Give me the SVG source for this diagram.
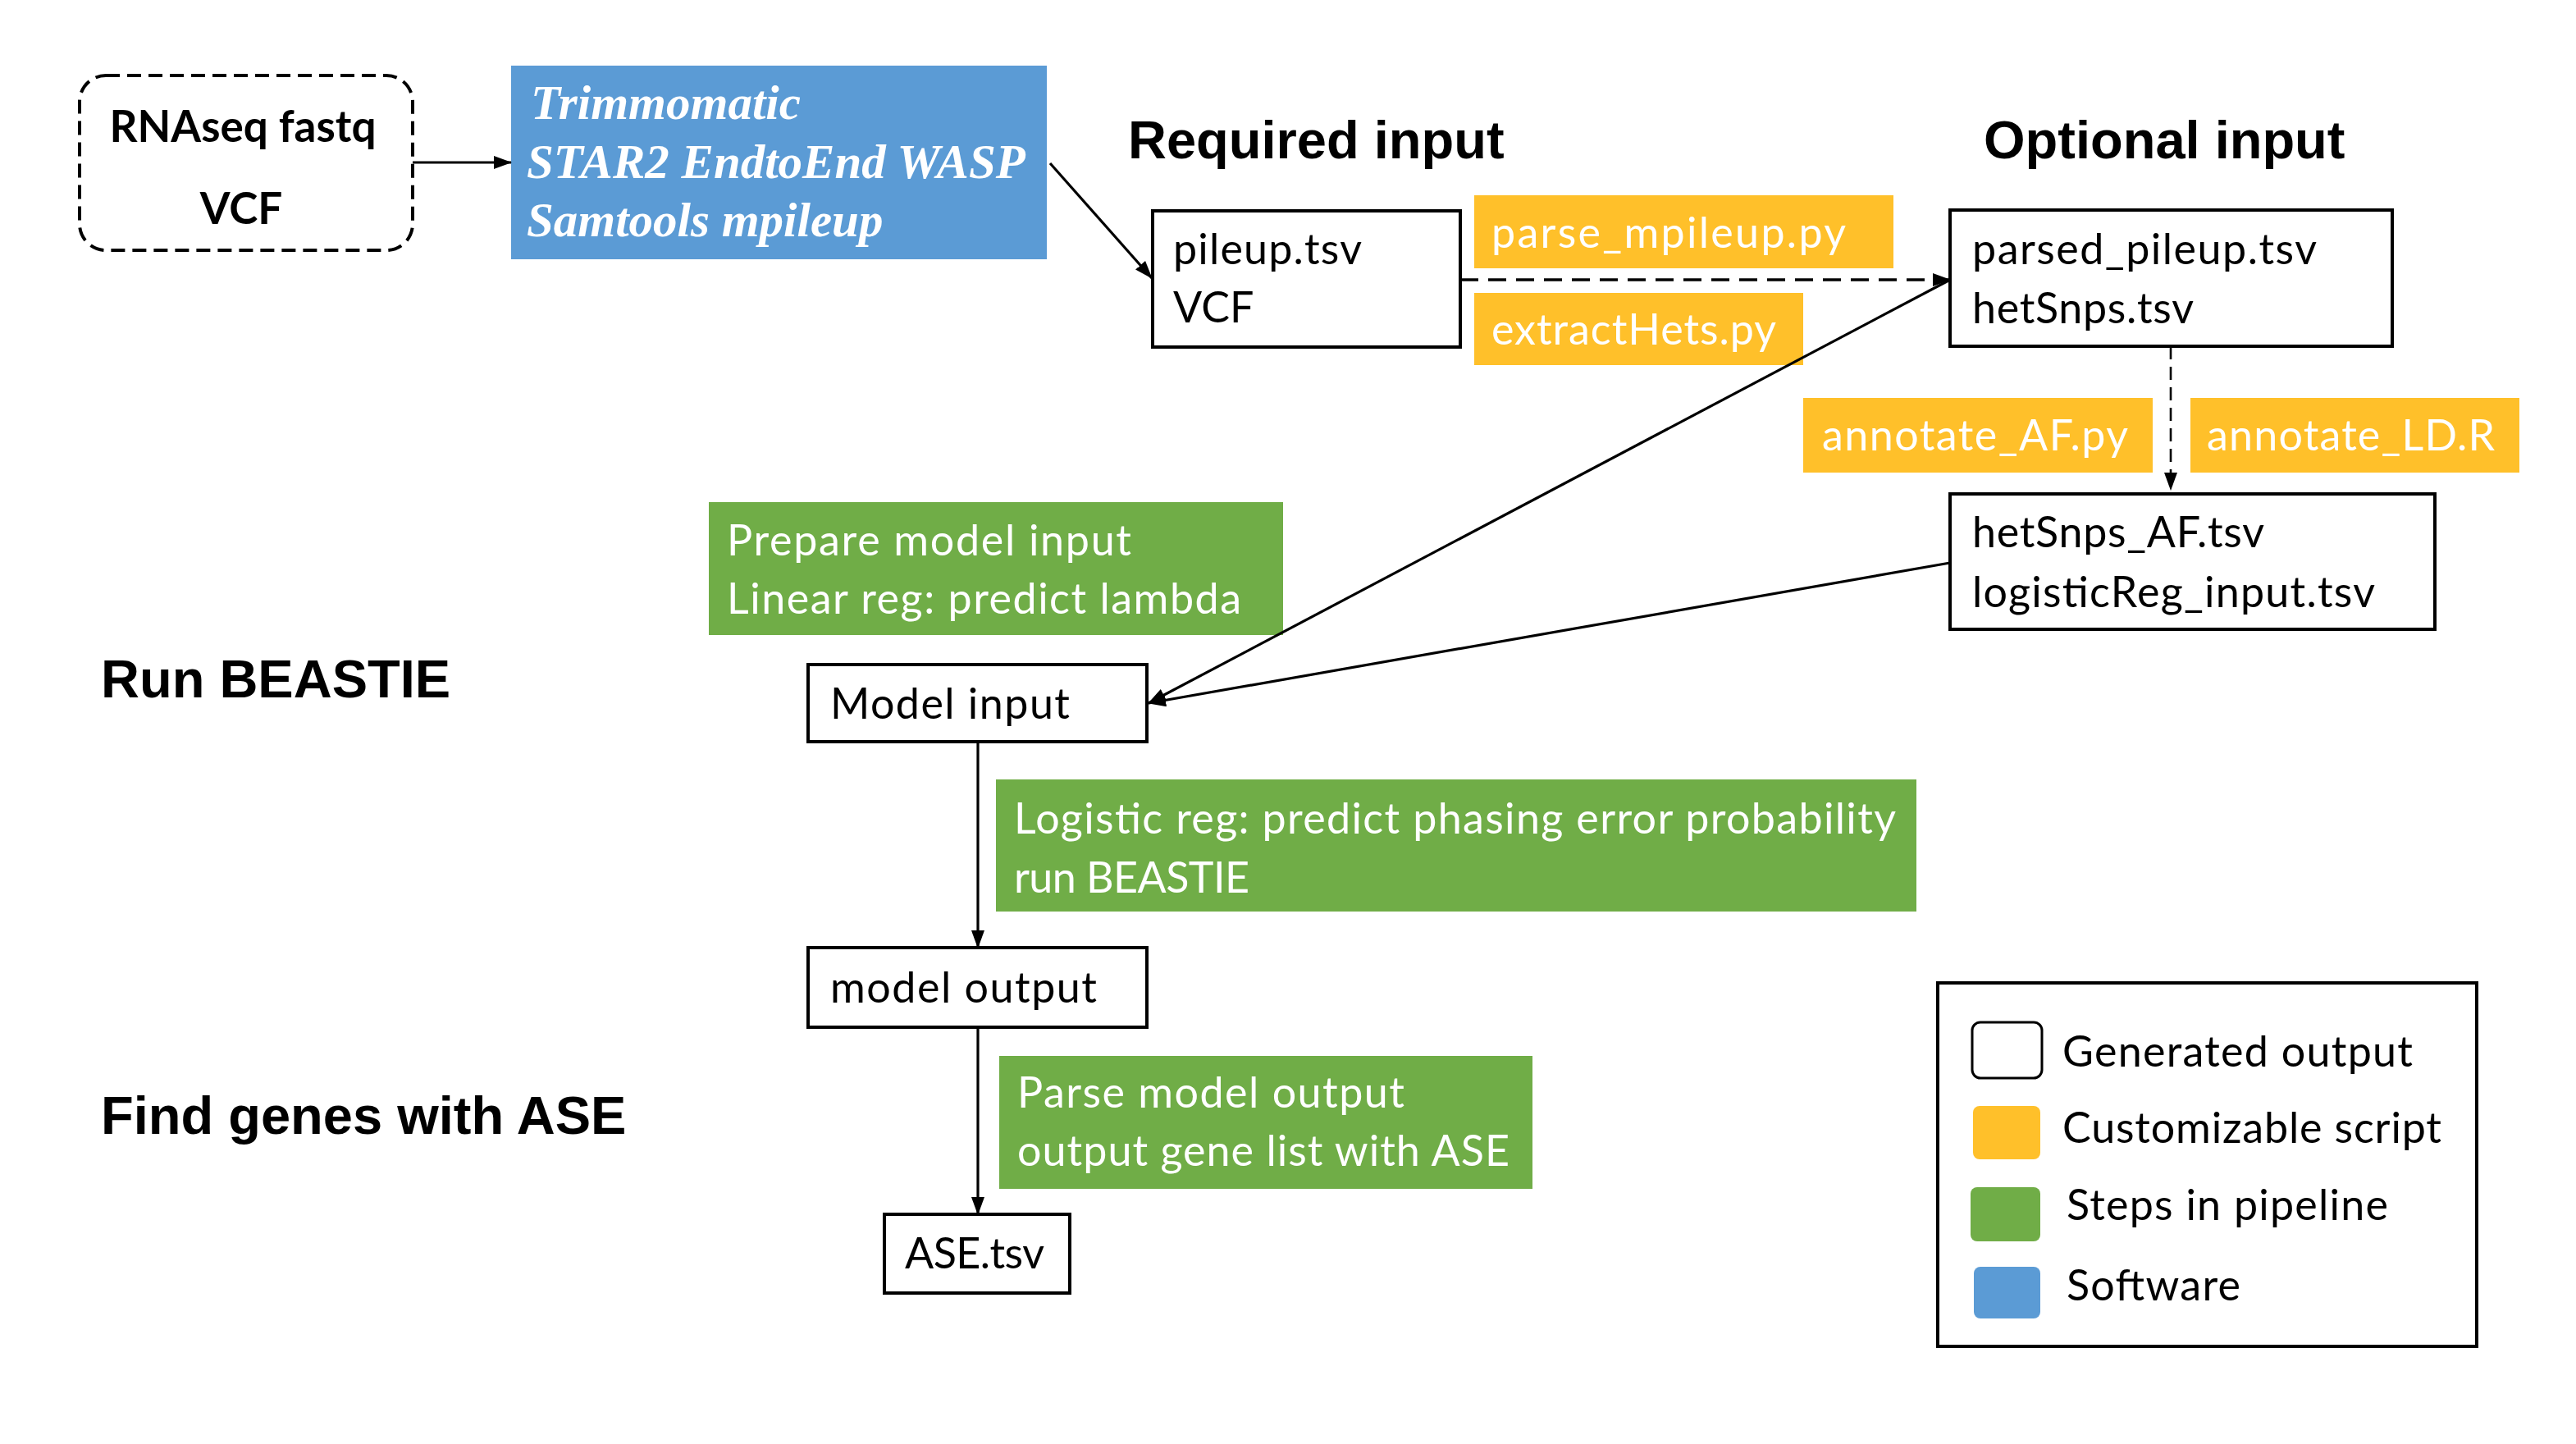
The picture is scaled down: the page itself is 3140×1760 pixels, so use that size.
<svg xmlns="http://www.w3.org/2000/svg" width="3140" height="1760" viewBox="0 0 3140 1760">
<style>
.bg{fill:#ffffff}
.out{fill:#ffffff;stroke:#000000;stroke-width:4}
.script{fill:#FFC02A}
.step{fill:#70AD47}
.soft{fill:#5B9BD5}
.t{font-family:Lato,"Open Sans",sans-serif;font-size:52px;fill:#000000}
.tw{font-family:Lato,"Open Sans",sans-serif;font-size:52px;fill:#ffffff}
.tb{font-family:Lato,"Open Sans",sans-serif;font-size:53px;font-weight:bold;fill:#000000}
.sw{font-family:"Liberation Serif","Times New Roman",serif;font-size:59px;font-weight:bold;font-style:italic;fill:#ffffff}
.h{font-family:"Liberation Sans",Arial,sans-serif;font-size:65px;font-weight:bold;fill:#000000}
.c{fill:none;stroke:#000000;stroke-width:3.2}
.d{stroke-dasharray:22 12;stroke-width:3.6}
.dv{stroke-dasharray:16 9;stroke-width:2.6}
</style>
<defs>
<marker id="arr" markerUnits="userSpaceOnUse" markerWidth="22" markerHeight="16" viewBox="0 0 22 16" refX="21" refY="8" orient="auto">
<path d="M0,0 L22,8 L0,16 z" fill="#000000"/>
</marker>
</defs>
<rect class="bg" x="0" y="0" width="3140" height="1760"/>

<g id="headings">
<text class="h" x="1375" y="193">Required input</text>
<text class="h" x="2418" y="193">Optional input</text>
<text class="h" x="123" y="850">Run BEASTIE</text>
<text class="h" x="123" y="1382">Find genes with ASE</text>
</g>

<g id="input-files">
<rect x="97" y="92" width="406" height="213" rx="32" ry="32" fill="#ffffff" stroke="#000000" stroke-width="4" stroke-dasharray="17 9"/>
<text class="tb" x="296" y="173" text-anchor="middle">RNAseq fastq</text>
<text class="tb" x="294" y="273" text-anchor="middle">VCF</text>
</g>

<g id="software">
<rect class="soft" x="623" y="80" width="653" height="236"/>
<text class="sw" x="647" y="145">Trimmomatic</text>
<text class="sw" x="642" y="217">STAR2 EndtoEnd WASP</text>
<text class="sw" x="642" y="288">Samtools mpileup</text>
</g>

<g id="pileup">
<rect class="out" x="1405" y="257" width="375" height="166"/>
<text class="t" x="1430" y="322" textLength="230">pileup.tsv</text>
<text class="t" x="1430" y="393">VCF</text>
</g>

<g id="parse-mpileup">
<rect class="script" x="1797" y="238" width="511" height="89"/>
<text class="tw" x="1818" y="302" textLength="432">parse_mpileup.py</text>
</g>

<g id="extract-hets">
<rect class="script" x="1797" y="357" width="401" height="88"/>
<text class="tw" x="1818" y="420" textLength="347">extractHets.py</text>
</g>

<g id="parsed-pileup">
<rect class="out" x="2377" y="256" width="539" height="166"/>
<text class="t" x="2404" y="322" textLength="420">parsed_pileup.tsv</text>
<text class="t" x="2404" y="394" textLength="270">hetSnps.tsv</text>
</g>

<g id="annotate-af">
<rect class="script" x="2198" y="485" width="426" height="91"/>
<text class="tw" x="2221" y="549" textLength="373">annotate_AF.py</text>
</g>

<g id="annotate-ld">
<rect class="script" x="2670" y="485" width="401" height="91"/>
<text class="tw" x="2690" y="549" textLength="351">annotate_LD.R</text>
</g>

<g id="hetsnps-af">
<rect class="out" x="2377" y="602" width="591" height="165"/>
<text class="t" x="2404" y="667" textLength="356">hetSnps_AF.tsv</text>
<text class="t" x="2404" y="740" textLength="491">logisticReg_input.tsv</text>
</g>

<g id="prepare-step">
<rect class="step" x="864" y="612" width="700" height="162"/>
<text class="tw" x="886" y="677" textLength="493">Prepare model input</text>
<text class="tw" x="886" y="748" textLength="627">Linear reg: predict lambda</text>
</g>

<g id="model-input">
<rect class="out" x="985" y="810" width="413" height="94"/>
<text class="t" x="1012" y="876" textLength="292">Model input</text>
</g>

<g id="logistic-step">
<rect class="step" x="1214" y="950" width="1122" height="161"/>
<text class="tw" x="1236" y="1016" textLength="1075">Logistic reg: predict phasing error probability</text>
<text class="tw" x="1236" y="1088" textLength="287">run BEASTIE</text>
</g>

<g id="model-output">
<rect class="out" x="985" y="1155" width="413" height="97"/>
<text class="t" x="1012" y="1222" textLength="325">model output</text>
</g>

<g id="parse-step">
<rect class="step" x="1218" y="1287" width="650" height="162"/>
<text class="tw" x="1240" y="1350" textLength="472">Parse model output</text>
<text class="tw" x="1240" y="1421" textLength="600">output gene list with ASE</text>
</g>

<g id="ase">
<rect class="out" x="1078" y="1480" width="226" height="96"/>
<text class="t" x="1103" y="1546" textLength="170">ASE.tsv</text>
</g>

<g id="legend">
<rect x="2362" y="1198" width="657" height="443" fill="#ffffff" stroke="#000000" stroke-width="4"/>
<rect x="2404" y="1246" width="85" height="68" rx="10" ry="10" fill="#ffffff" stroke="#000000" stroke-width="3"/>
<text class="t" x="2514" y="1300" textLength="427">Generated output</text>
<rect class="script" x="2405" y="1348" width="82" height="65" rx="8" ry="8"/>
<text class="t" x="2514" y="1393" textLength="462">Customizable script</text>
<rect class="step" x="2402" y="1447" width="85" height="66" rx="8" ry="8"/>
<text class="t" x="2519" y="1487" textLength="392">Steps in pipeline</text>
<rect class="soft" x="2406" y="1544" width="81" height="63" rx="8" ry="8"/>
<text class="t" x="2519" y="1585" textLength="212">Software</text>
</g>

<g id="connectors">
<line class="c" x1="503" y1="198" x2="623" y2="198" marker-end="url(#arr)"/>
<line class="c" x1="1280" y1="199" x2="1404" y2="339" marker-end="url(#arr)"/>
<line class="c d" x1="1780" y1="341" x2="2377" y2="341" marker-end="url(#arr)"/>
<line class="c" x1="2377" y1="341" x2="1400" y2="857" marker-end="url(#arr)"/>
<line class="c" x1="2377" y1="686" x2="1400" y2="857" marker-end="url(#arr)"/>
<line class="c dv" x1="2646" y1="422" x2="2646" y2="597" marker-end="url(#arr)"/>
<line class="c" x1="1192" y1="904" x2="1192" y2="1155" marker-end="url(#arr)"/>
<line class="c" x1="1192" y1="1252" x2="1192" y2="1480" marker-end="url(#arr)"/>
</g>
</svg>
